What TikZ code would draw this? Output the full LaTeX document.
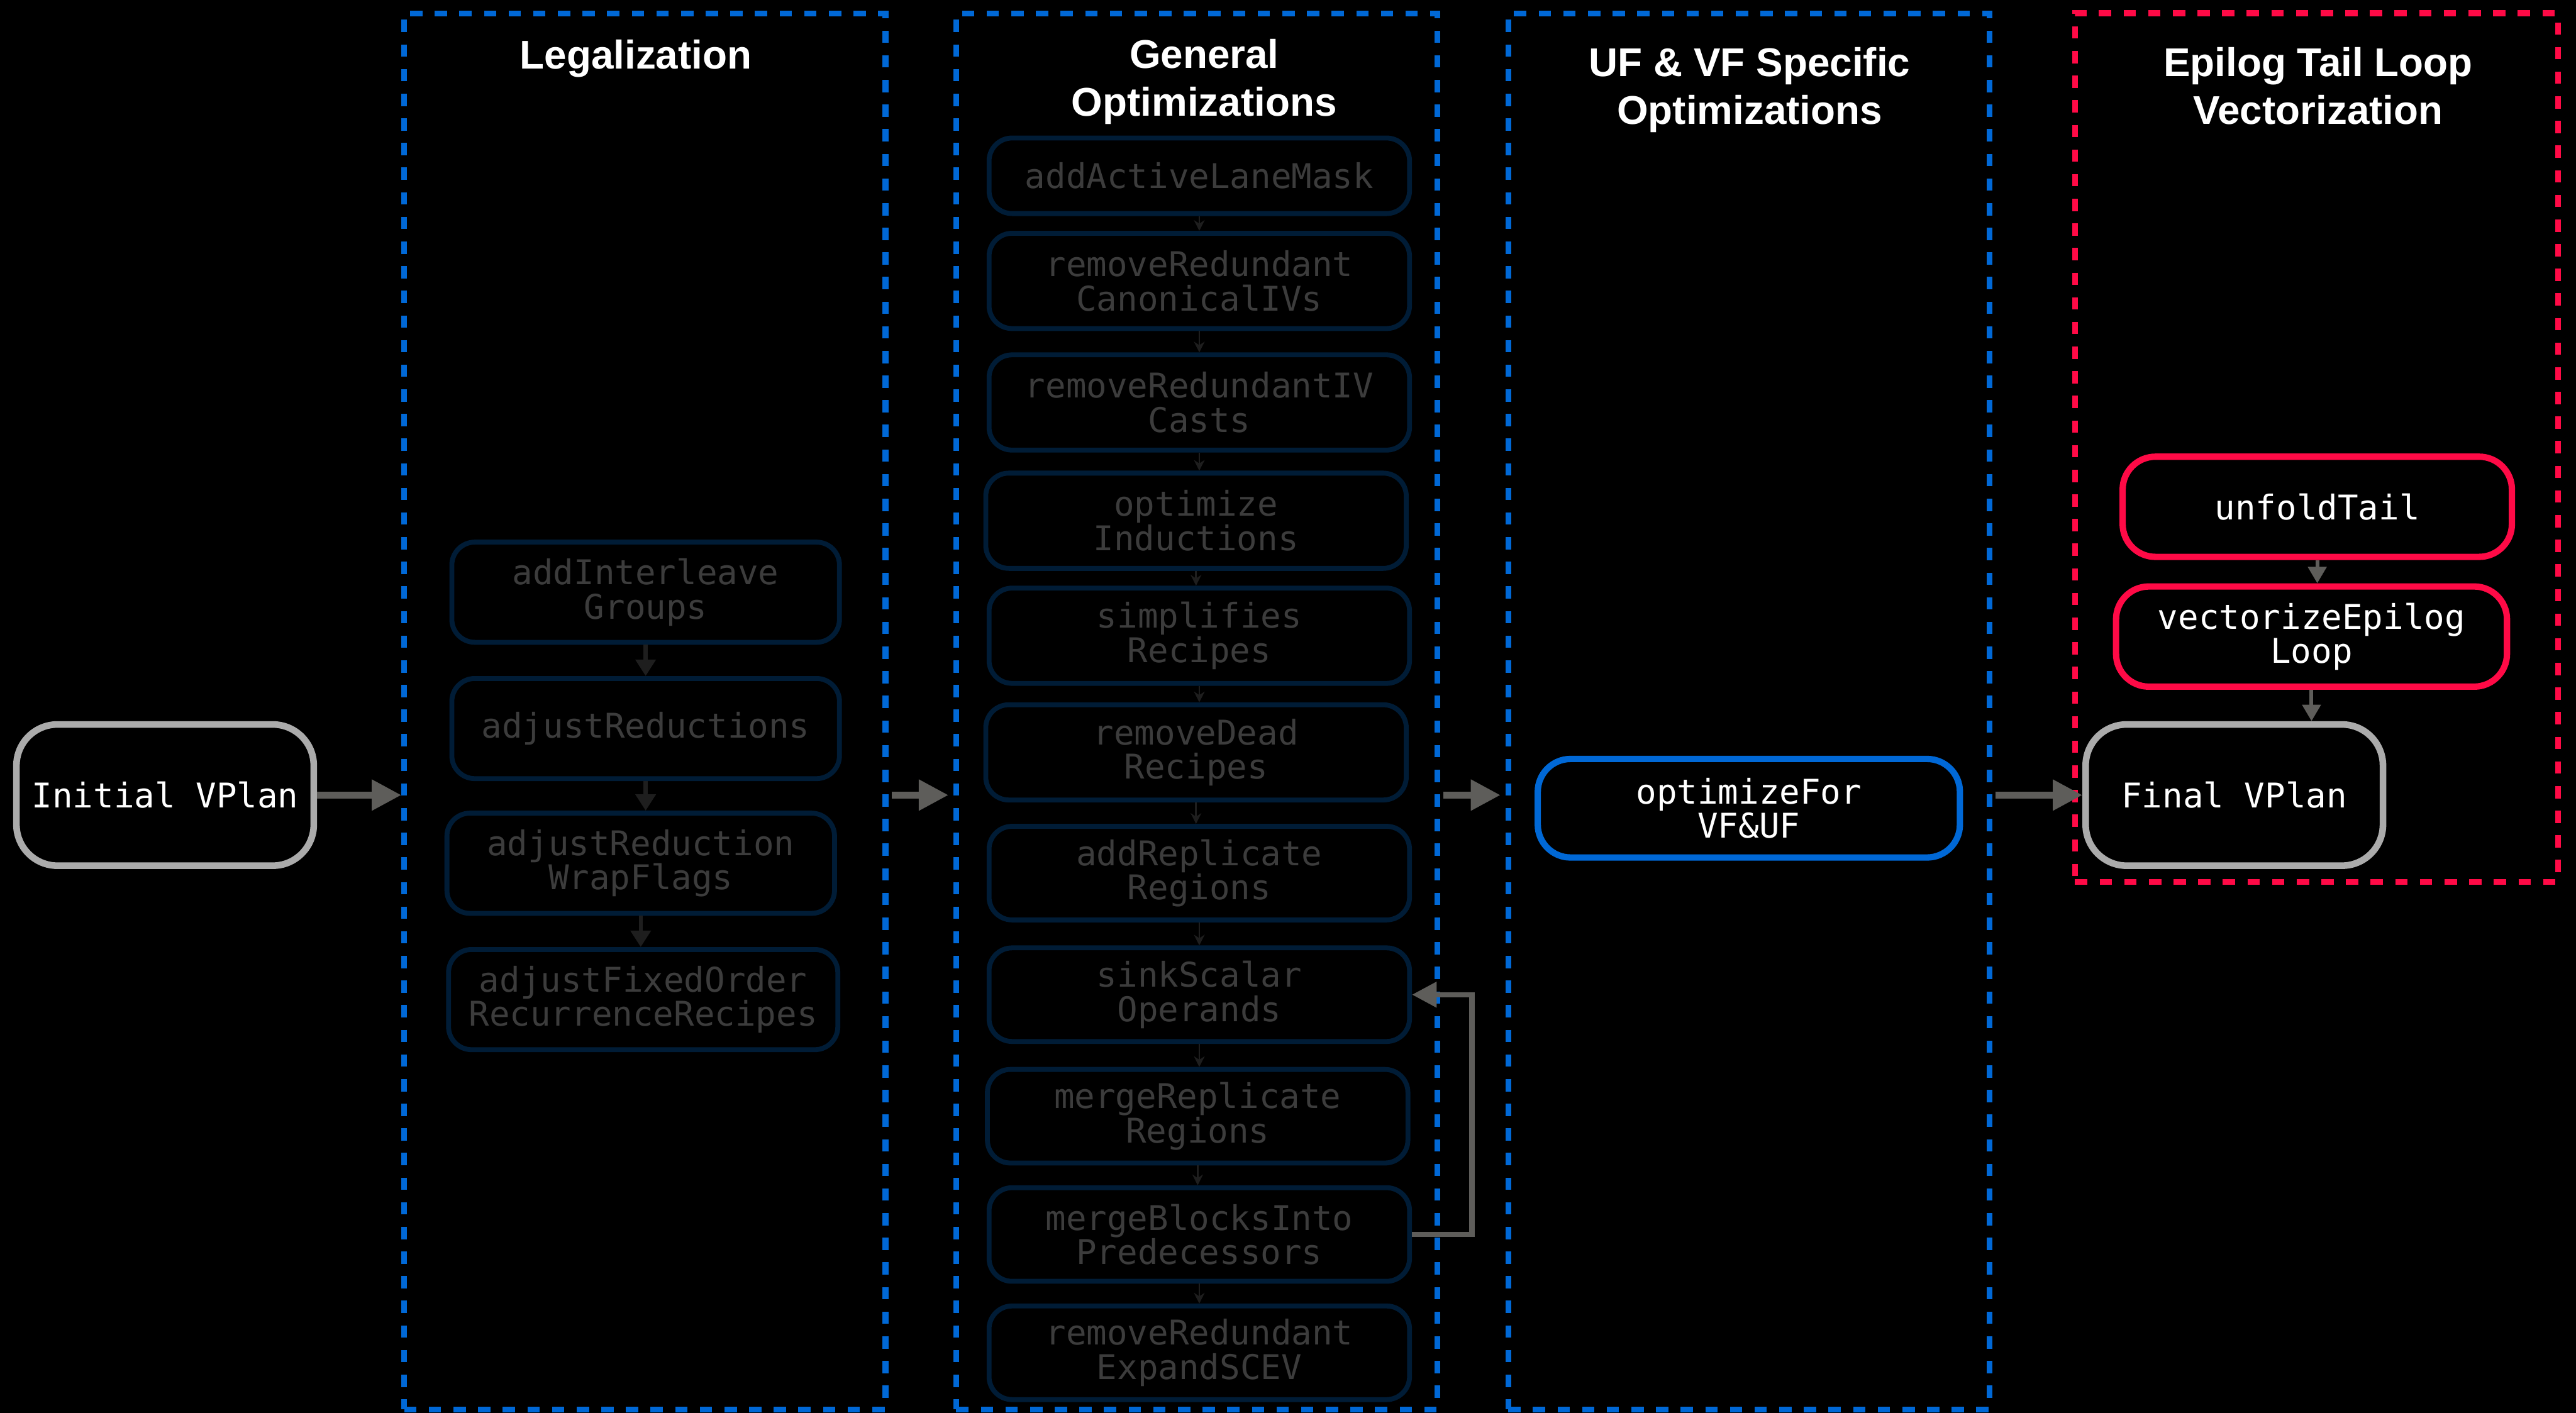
\documentclass[tikz,border=0pt]{standalone}
\usepackage{fontspec}
\setmainfont{Liberation Sans}
\setsansfont{Liberation Sans}
\setmonofont{DejaVu Sans Mono}
\usetikzlibrary{arrows.meta,calc}

\definecolor{clusterblue}{HTML}{0068D6}
\definecolor{clusterred}{HTML}{FF0A46}
\definecolor{passedge}{HTML}{001C36}
\definecolor{passtext}{HTML}{3C3C3C}
\definecolor{termedge}{HTML}{ABABAB}
\definecolor{flowgray}{HTML}{5E5D5A}
\definecolor{dimarrow}{HTML}{1E1E1E}
\definecolor{optblue}{HTML}{0068D6}

\newcommand\passfont{\ttfamily\fontsize{11.8}{11.9}\selectfont}
\newcommand\headfont{\sffamily\bfseries\fontsize{13.9}{16.5}\selectfont}

\begin{document}
\begin{tikzpicture}[x=0.02cm,y=-0.02cm,
  cluster/.style={draw=#1, line width=2pt, dash pattern=on 0.15cm off 0.15cm,
    inner sep=0pt, minimum width=5.86cm},
  heading/.style={text=white, font=\headfont, align=center, inner sep=0pt},
  pass/.style={draw=passedge, line width=1.7pt, rounded corners=0.28cm,
    text=passtext, font=\passfont, align=center, inner sep=0pt,
    minimum width=4.72cm, minimum height=1.22cm},
  genpass/.style={pass, minimum width=5.12cm, minimum height=1.16cm},
  terminal/.style={draw=termedge, line width=2.3pt, rounded corners=0.5cm,
    text=white, font=\passfont, align=center, inner sep=0pt,
    minimum width=3.62cm, minimum height=1.72cm},
  keypass/.style={draw=#1, line width=2.2pt, rounded corners=0.4cm,
    text=white, font=\passfont, align=center, inner sep=0pt,
    minimum width=4.74cm, minimum height=1.22cm},
  flow/.style={draw=flowgray, line width=2.3pt,
    -{Triangle[length=0.36cm,width=0.36cm]}},
  legalstep/.style={draw=dimarrow, line width=1.4pt,
    -{Triangle[length=0.2cm,width=0.24cm]}},
  genstep/.style={draw=dimarrow, line width=0.6pt,
    -{Stealth[length=0.13cm,width=0.13cm]}},
  tailstep/.style={draw=flowgray, line width=1.3pt,
    -{Triangle[length=0.2cm,width=0.22cm]}},
  loopback/.style={draw=flowgray, line width=1.8pt,
    -{Triangle[length=0.3cm,width=0.3cm]}}
]
\fill[black] (0,0) rectangle (1568,860);
\useasboundingbox (0,0) rectangle (1568,860);

% stage frames
\node[cluster=clusterblue, minimum height=17cm] (legal) at (392.5,433) {};
\node[cluster=clusterblue, minimum height=17cm] (general) at (728.5,433) {};
\node[cluster=clusterblue, minimum height=17cm] (ufvf) at (1064.5,433) {};
\node[cluster=clusterred, minimum width=5.88cm, minimum height=10.58cm] (epilog) at (1410,272.5) {};

% stage headings
\node[heading] (legalhead) at (387,35.5) {Legalization};
\node[heading] (generalhead) at (733,49.8) {General\\Optimizations};
\node[heading] (ufvfhead) at (1065,54.8) {UF \& VF Specific\\Optimizations};
\node[heading] (epiloghead) at (1411,52.3) {Epilog Tail Loop\\Vectorization};

% entry and exit plans
\node[terminal] (init) at (100.5,484) {Initial VPlan};
\node[terminal] (final) at (1360,484) {Final VPlan};

% legalization passes
\node[pass] (l1) at (393,360.5) {addInterleave\\Groups};
\node[pass] (l2) at (393,443.5) {adjustReductions};
\node[pass] (l3) at (390,525.5) {adjustReduction\\WrapFlags};
\node[pass, minimum width=4.74cm] (l4) at (391.5,608.5) {adjustFixedOrder\\RecurrenceRecipes};

% general optimization passes
\node[genpass, minimum height=0.92cm] (g1) at (730,107) {addActiveLaneMask};
\node[genpass] (g2) at (730,171) {removeRedundant\\CanonicalIVs};
\node[genpass] (g3) at (730,245) {removeRedundantIV\\Casts};
\node[genpass] (g4) at (728,317) {optimize\\Inductions};
\node[genpass] (g5) at (730,387) {simplifies\\Recipes};
\node[genpass] (g6) at (728,458) {removeDead\\Recipes};
\node[genpass, minimum height=1.14cm] (g7) at (730,531.5) {addReplicate\\Regions};
\node[genpass, minimum height=1.14cm] (g8) at (730,605.5) {sinkScalar\\Operands};
\node[genpass, minimum height=1.14cm] (g9) at (729,679.5) {mergeReplicate\\Regions};
\node[genpass, minimum height=1.14cm] (g10) at (730,751.5) {mergeBlocksInto\\Predecessors};
\node[genpass, minimum height=1.14cm] (g11) at (730,823.5) {removeRedundant\\ExpandSCEV};

% UF & VF specific pass
\node[keypass=optblue, minimum width=5.14cm, minimum height=1.2cm] (opt) at (1064.5,492) {optimizeFor\\VF\&UF};

% epilog passes
\node[keypass=clusterred] (unfold) at (1410.5,308.5) {unfoldTail};
\node[keypass=clusterred, minimum width=4.76cm] (vecepi) at (1407,387.5) {vectorizeEpilog\\Loop};

% pipeline flow between stages
\draw[flow] (init.east) -- (init.east -| legal.west);
\draw[flow] ($(init.east -| legal.east)+(2,0)$) -- ($(init.east -| general.west)+(-3,0)$);
\draw[flow] ($(init.east -| general.east)+(2,0)$) -- ($(init.east -| ufvf.west)+(-3,0)$);
\draw[flow] ($(final.west -| ufvf.east)+(2,0)$) -- (final.west);

% legalization sequence
\foreach \a/\b in {l1/l2,l2/l3,l3/l4}
  \draw[legalstep] (\a.south) -- (\a.south |- \b.north);

% general optimization sequence
\foreach \a/\b in {g1/g2,g2/g3,g3/g4,g4/g5,g5/g6,g6/g7,g7/g8,g8/g9,g9/g10,g10/g11}
  \draw[genstep] (\a.south) -- (\a.south |- \b.north);

% repeat from mergeBlocksIntoPredecessors back to sinkScalarOperands
\coordinate (loopx) at (896,0);
\draw[loopback] (g10.east) -- (g10.east -| loopx) |- (g8.east);

% epilog sequence
\draw[tailstep] (unfold.south) -- (unfold.south |- vecepi.north);
\draw[tailstep] (vecepi.south) -- (vecepi.south |- final.north);
\end{tikzpicture}
\end{document}
